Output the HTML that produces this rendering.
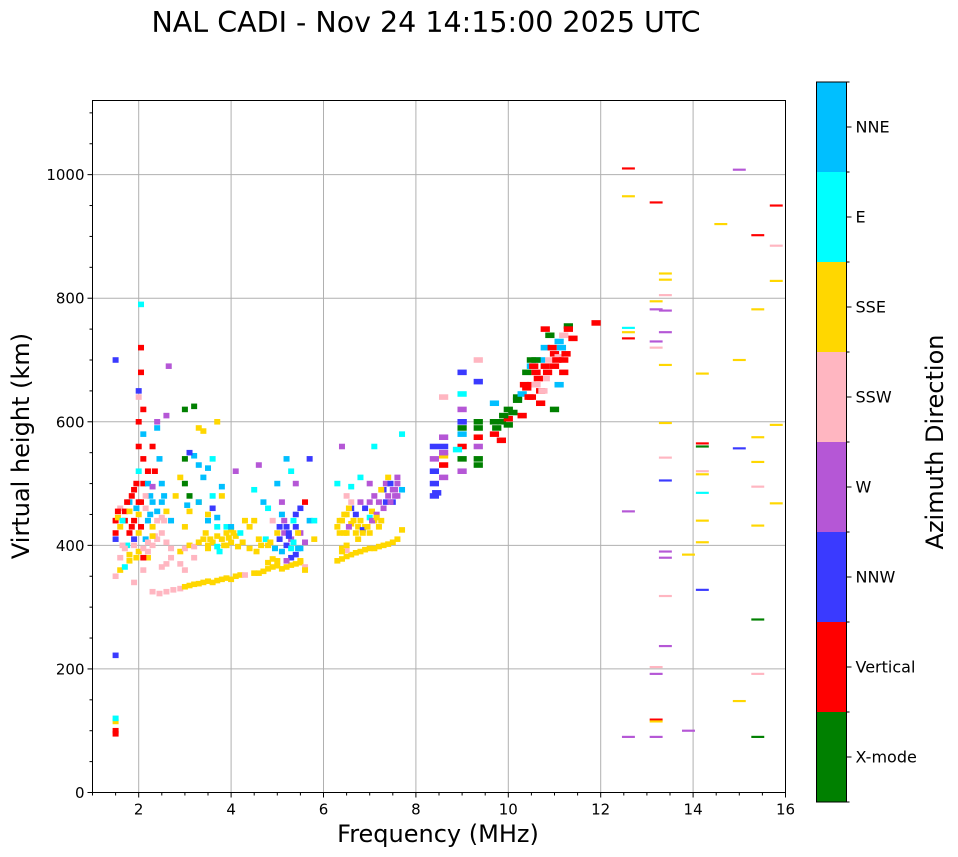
<!DOCTYPE html>
<html><head><meta charset="utf-8"><style>
body{margin:0;background:#fff;}
svg{display:block;font-family:"DejaVu Sans","Liberation Sans",sans-serif;}
</style></head><body>
<svg id="chart" width="958" height="857" viewBox="0 0 958 857" xmlns="http://www.w3.org/2000/svg">
<text x="426" y="32" font-size="28.5" text-anchor="middle" fill="#000">NAL CADI - Nov 24 14:15:00 2025 UTC</text>
<g id="grid"></g>
<g id="marks"></g>
<rect x="92.5" y="100.5" width="693" height="692" fill="none" stroke="#000" stroke-width="1"/>
<g id="axes"></g>
<text x="438" y="842" font-size="24" text-anchor="middle">Frequency (MHz)</text>
<text transform="translate(29,446) rotate(-90)" font-size="24" text-anchor="middle">Virtual height (km)</text>
<g id="cbar"></g>
<text transform="translate(943,442) rotate(-90)" font-size="24" text-anchor="middle">Azimuth Direction</text>
</svg>
<script>
const dirNames = ["X-mode","Vertical","NNW","W","SSW","SSE","E","NNE"];
const dirColors = ["#008000","#ff0000","#3a3aff","#b557d6","#ffb6c1","#ffd700","#00ffff","#00bfff"];
const xTicks = [2,4,6,8,10,12,14,16];
const yTicks = [0,200,400,600,800,1000];
const freqMHz = [
2.3,2.45,2.6,2.75,2.9,3.0,3.1,3.2,3.3,3.4,3.5,3.6,3.7,3.8,3.9,4.0,4.1,4.2,4.3,4.5,4.6,4.7,4.8,4.9,5.0,5.1,5.2,5.3,5.4,5.5,5.6,4.8,4.9,5.0,
6.3,6.4,6.5,6.6,6.7,6.8,6.9,7.0,7.1,7.2,7.3,7.4,7.5,7.6,7.7,6.4,6.5,
2.2,2.3,2.4,2.5,2.3,2.4,2.5,2.6,2.7,2.9,3.0,3.1,3.2,3.3,3.4,3.5,3.6,3.7,3.8,3.9,4.0,4.1,3.5,3.7,3.9,4.0,3.0,3.1,3.3,3.5,3.8,2.9,3.0,2.5,2.2,2.1,1.9,2.6,3.2,
3.2,3.3,3.4,3.5,3.6,3.7,3.8,3.9,4.0,4.1,3.6,3.7,3.5,3.3,3.4,3.7,3.0,3.2,3.0,3.1,3.0,3.1,3.3,3.6,2.9,2.8,2.7,3.05,
1.5,1.5,1.5,1.5,1.55,1.6,1.6,1.7,1.7,1.75,1.8,1.8,1.85,1.9,1.9,1.9,1.95,2.0,2.0,2.0,2.0,2.0,2.0,2.0,2.05,2.05,2.05,2.1,2.1,2.1,2.1,2.15,2.2,2.2,2.25,2.3,2.3,2.35,2.4,2.4,2.45,2.5,2.5,2.55,2.6,2.6,2.4,1.6,1.7,1.8,1.5,2.0,2.1,1.5,1.5,1.5,1.5,1.5,2.65,2.2,2.3,1.65,1.8,1.95,2.05,2.15,
4.5,4.6,4.7,4.8,4.9,5.0,5.0,5.1,5.1,5.2,5.2,5.3,5.3,5.4,5.4,5.5,5.5,5.6,5.6,5.7,5.8,5.8,5.2,5.3,5.4,5.7,5.5,5.1,5.2,5.3,5.4,5.5,4.8,4.6,4.5,4.3,4.4,4.2,5.6,
6.3,6.4,6.5,6.5,6.6,6.6,6.7,6.7,6.8,6.8,6.9,6.9,7.0,7.0,7.1,7.1,7.2,7.2,7.3,7.3,7.4,7.5,7.5,7.6,7.6,7.7,7.4,7.6,7.0,6.5,6.4,6.3,6.4,6.5,6.6,7.1,7.7,6.8,7.0,6.6,
8.4,8.4,8.4,8.4,8.45,8.6,8.6,8.6,8.6,8.6,9.0,9.0,9.0,9.0,9.0,9.0,9.0,9.0,9.35,9.35,9.35,9.35,9.35,9.35,9.35,8.9,8.4,
9.7,9.7,9.7,9.85,9.85,10.0,10.0,10.0,10.2,10.2,10.3,10.3,10.4,10.4,10.5,10.5,10.5,10.5,10.6,10.6,10.7,10.7,10.7,10.8,10.8,10.8,10.8,10.9,10.9,11.0,11.0,11.1,11.1,11.2,11.2,11.2,11.3,11.3,11.4,11.9,10.6,11.0,11.1,
12.6,12.6,12.6,12.6,12.6,12.6,12.6,13.2,13.2,13.2,13.2,13.2,13.2,13.2,13.2,13.2,13.2,13.4,13.4,13.4,13.4,13.4,13.4,13.4,13.4,13.4,13.4,13.4,13.4,13.4,13.9,13.9,14.2,14.2,14.2,14.2,14.2,14.2,14.2,14.2,14.2,14.6,15.0,15.0,15.0,15.0,15.4,15.4,15.4,15.4,15.4,15.4,15.4,15.4,15.4,15.8,15.8,15.8,15.8,15.8,
2.35,2.55,2.7,3.45,3.55,3.75,3.85,3.95,4.05,4.15,4.25,4.4,4.55,4.65,4.75,4.85,4.95,5.05,5.15,5.25,5.35,5.45,5.05,5.15,5.25,5.35,5.45,
6.35,6.45,6.55,6.65,6.75,6.85,6.95,7.05,7.15,7.25,6.35,6.45,6.55,6.75,6.85,6.95,7.05,7.15,7.35,7.45,7.55,7.25,7.35,7.45,7.55,
1.55,1.65,1.75,1.85,1.95,2.05,2.15,2.25,1.6,1.7,1.8,1.9,2.0,2.1,2.2,2.3,
10.55,10.65,10.75,10.85,10.95,11.05,11.15,11.25,10.35,10.45,9.75,9.9,10.1,9.35,9.0,8.6,8.6,9.0
];
const heightKm = [
325,322,325,328,330,333,335,337,338,340,342,340,343,345,347,345,350,352,352,355,355,358,362,365,367,362,365,368,370,372,365,372,378,375,
375,378,382,385,388,390,393,395,395,398,400,402,405,410,425,395,392,
390,400,410,420,430,440,445,405,395,390,395,400,398,405,410,400,405,415,410,420,405,415,395,398,400,425,430,455,470,450,480,370,360,365,380,360,340,370,380,
545,470,510,525,480,445,495,430,430,520,460,430,440,590,585,600,620,625,540,550,500,480,530,540,510,480,440,465,
700,440,420,410,445,460,430,440,455,400,420,470,480,490,440,410,500,520,470,450,560,600,640,650,680,720,790,620,540,580,500,460,440,520,480,470,560,520,590,600,540,500,470,480,610,455,455,360,365,375,350,390,380,100,115,222,120,95,690,500,495,400,455,380,430,410,
490,530,470,460,440,420,500,470,450,430,400,410,380,450,430,420,395,405,470,440,440,410,540,520,500,540,460,390,375,395,385,375,400,410,440,440,430,420,360,
430,440,450,420,435,460,450,420,470,440,430,460,470,445,480,440,470,430,490,460,480,490,470,480,500,490,510,510,420,400,390,500,560,480,495,560,580,510,500,470,
560,540,520,500,485,575,545,530,510,640,680,645,620,600,580,560,540,520,700,665,590,575,560,540,530,555,480,
630,600,580,600,570,620,605,595,640,635,645,610,655,680,700,690,660,640,680,660,700,650,630,750,720,690,670,740,700,710,690,730,705,740,700,680,755,750,735,760,700,620,660,
1010,965,752,745,735,455,90,955,795,782,730,720,203,192,118,115,90,840,830,805,780,745,692,598,542,505,390,380,318,237,385,100,678,565,560,520,515,485,440,405,328,920,1008,700,557,148,902,782,575,535,495,432,280,192,90,950,885,828,595,468,
415,440,380,420,410,390,400,412,420,398,405,395,390,400,410,405,395,410,420,415,405,395,430,440,420,440,420,
440,450,460,440,430,425,430,455,450,440,420,420,430,410,420,430,440,445,470,470,480,490,500,500,490,
455,440,470,430,460,470,480,450,380,395,385,400,420,395,405,415,
690,670,650,680,720,700,720,710,660,640,590,610,615,600,590,560,550,600
];
const dirIdx = [
4,4,4,4,4,5,5,5,5,5,5,5,5,5,5,5,5,5,4,5,5,5,5,5,5,5,5,5,5,5,4,5,5,5,
5,5,5,5,5,5,5,5,5,5,5,5,5,5,5,5,4,
4,4,4,4,5,4,4,4,4,5,4,5,4,5,5,5,5,5,5,5,5,5,5,6,5,5,5,5,5,5,5,4,4,4,5,4,4,4,4,
7,7,7,7,6,7,7,6,7,3,2,6,7,5,5,5,0,0,0,2,0,0,7,6,5,5,7,7,
2,1,1,2,5,4,5,1,1,6,1,7,1,1,1,2,1,6,1,5,1,1,4,2,1,1,6,1,1,7,1,4,7,1,7,7,1,1,7,3,7,7,7,7,3,5,7,5,6,5,4,5,1,1,5,2,6,1,3,7,3,4,5,5,1,7,
6,3,7,6,4,5,7,3,7,2,2,3,2,2,2,3,7,3,1,7,6,5,7,6,3,2,2,7,3,6,2,5,5,5,5,5,5,6,5,
5,5,5,5,5,2,2,5,3,5,5,2,3,6,3,5,3,5,2,3,3,3,2,3,3,7,5,3,5,5,5,6,3,4,6,6,6,6,3,4,
2,3,2,2,2,3,5,1,3,4,2,6,3,2,7,1,0,3,4,2,0,1,3,0,0,6,2,
7,0,1,0,1,0,1,0,0,0,7,1,1,0,0,7,1,1,1,4,7,1,1,1,7,1,4,0,4,1,1,7,4,4,1,1,0,1,1,1,0,0,7,
1,5,6,5,1,3,3,1,5,3,3,4,4,3,1,5,3,5,5,4,3,3,5,5,4,2,3,3,4,3,5,3,5,1,0,4,5,6,5,5,2,5,3,5,2,5,1,5,5,5,4,5,0,4,0,1,4,5,5,5,
4,4,4,5,5,6,5,5,5,5,5,5,5,5,6,5,7,2,3,2,6,7,2,3,2,6,5,
5,5,5,5,5,2,5,5,3,5,5,5,3,5,5,5,3,5,2,3,3,5,3,2,3,
1,6,1,1,7,1,4,7,4,4,5,4,5,4,4,5,
1,1,4,1,1,1,7,1,1,1,0,0,0,0,0,2,3,2
];
const NS="http://www.w3.org/2000/svg";
const X0=92.5,X1=785.5,Y0=792.5,Y1=100.5;
const xScale=f=>X0+(f-1)/(16-1)*(X1-X0);
const yScale=h=>Y0-h/1120*(Y0-Y1);
function mk(tag,attrs,parent){const e=document.createElementNS(NS,tag);for(const k in attrs)e.setAttribute(k,attrs[k]);parent.appendChild(e);return e;}
const grid=document.getElementById('grid'),axes=document.getElementById('axes'),marks=document.getElementById('marks'),cbar=document.getElementById('cbar');
xTicks.forEach(t=>{const x=xScale(t);
 if(t<16){const g=mk('line',{x1:x,x2:x,y1:Y1,y2:Y0,stroke:'#b0b0b0','stroke-width':1},grid);}
 const tk=mk('line',{x1:x,x2:x,y1:Y0,y2:Y0+5,stroke:'#000'},axes);
 const lb=mk('text',{x:x,y:Y0+22,'font-size':15,'text-anchor':'middle'},axes);lb.textContent=t;});
for(let f=1;f<=16;f+=0.5){if(xTicks.includes(f))continue;const m=mk('line',{x1:xScale(f),x2:xScale(f),y1:Y0,y2:Y0+3,stroke:'#000'},axes);}
yTicks.forEach(t=>{const y=yScale(t);
 if(t>0){const g=mk('line',{x1:X0,x2:X1,y1:y,y2:y,stroke:'#b0b0b0','stroke-width':1},grid);}
 const tk=mk('line',{x1:X0-5,x2:X0,y1:y,y2:y,stroke:'#000'},axes);
 const lb=mk('text',{x:X0-8,y:y+5.5,'font-size':15,'text-anchor':'end'},axes);lb.textContent=t;});
for(let h=50;h<1120;h+=50){if(h%200===0)continue;const m=mk('line',{x1:X0-3,x2:X0,y1:yScale(h),y2:yScale(h),stroke:'#000'},axes);}
for(let i=0;i<freqMHz.length;i++){
 const f=freqMHz[i],h=heightKm[i];
 const wf=f<8?0.13:(f<12?0.2:0.28);
 const hk=f<12?9:3.5;
 const x=xScale(f-wf/2),y=yScale(h+hk/2);
 const r=mk('rect',{x:x,y:y,width:xScale(f+wf/2)-x,height:yScale(h-hk/2)-y,fill:dirColors[dirIdx[i]]},marks);
 
 
}
const CB0=816.5,CBW=30,CT=82,CB=802,bh=(CB-CT)/8;
dirNames.forEach((n,i)=>{const yb=CB-(i+1)*bh;
 const r=mk('rect',{x:CB0,y:yb,width:CBW,height:bh,fill:dirColors[i]},cbar);
 const yc=yb+bh/2;
 const t=mk('line',{x1:CB0+CBW,x2:CB0+CBW+5,y1:yc,y2:yc,stroke:'#000'},cbar);
 const lb=mk('text',{x:CB0+CBW+9,y:yc+5.5,'font-size':16},cbar);lb.textContent=n;});
for(let i=0;i<=8;i++){const y=CT+i*bh;const t=mk('line',{x1:CB0+CBW,x2:CB0+CBW+3,y1:y,y2:y,stroke:'#000'},cbar);}
const fr=mk('rect',{x:CB0,y:CT,width:CBW,height:CB-CT,fill:'none',stroke:'#000'},cbar);


</script>
</body></html>
